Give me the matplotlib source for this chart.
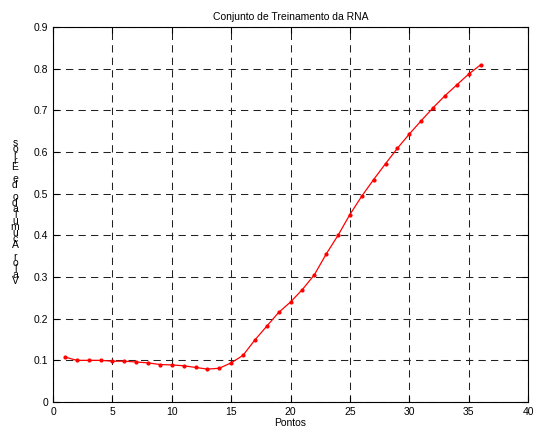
import numpy as np
import matplotlib.pyplot as plt

plt.rcParams['font.family'] = ['Liberation Sans', 'DejaVu Sans']

# Dados do conjunto de treinamento
pontos = list(range(1, 37))
valores = [0.108, 0.100, 0.100, 0.100, 0.098, 0.098, 0.096, 0.094, 0.090, 0.089,
           0.087, 0.083, 0.079, 0.081, 0.094, 0.112, 0.149, 0.182, 0.215, 0.240,
           0.270, 0.305, 0.355, 0.400, 0.450, 0.494, 0.534, 0.572, 0.609, 0.643,
           0.675, 0.706, 0.735, 0.761, 0.787, 0.809]

titulo = 'Conjunto de Treinamento da RNA'
xlabel = 'Pontos'
ylabel = 'Valor Acumulado de Erros'

fig = plt.figure(figsize=(5.34, 4.28), dpi=100)
ax = fig.add_axes([0.0993, 0.0607, 0.8895, 0.8762])

ax.plot(pontos, valores, color='red', linewidth=0.9, marker='.', markersize=4)

ax.set_xlim(0, 40)
ax.set_ylim(0, 0.9)
ax.set_xticks(np.arange(0, 41, 5))
ax.set_yticks(np.arange(0, 0.91, 0.1))
ax.set_yticklabels(['0'] + ['%.1f' % v for v in np.arange(0.1, 0.91, 0.1)])
ax.grid(True, color='#222222', linestyle=(0, (7, 5)), linewidth=0.75)
ax.tick_params(direction='in', labelsize=7.5, length=4, top=True, right=True)
for s in ax.spines.values():
    s.set_linewidth(0.8)

ax.set_title(titulo, fontsize=7.5, pad=5)
ax.set_xlabel(xlabel, fontsize=7.5, labelpad=1)

# rótulo vertical com letras empilhadas
fig.text(0.028, 0.505, '\n'.join(reversed(ylabel)), fontsize=7.5, ha='center', va='center',
         linespacing=0.5)

fig.savefig('out.png', dpi=100)
